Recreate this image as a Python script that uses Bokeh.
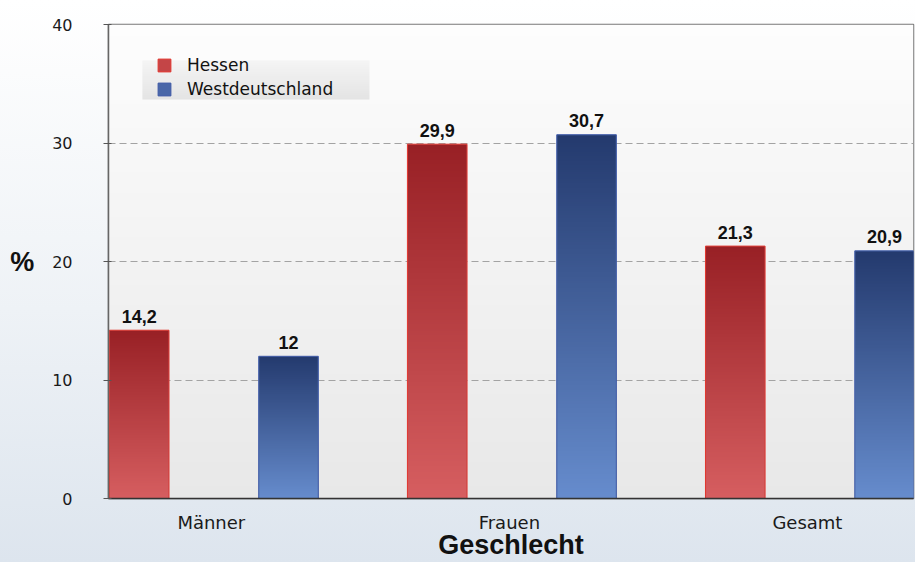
import numpy as np
from bokeh.plotting import figure
from bokeh.models import ColumnDataSource, FixedTicker, Legend, LegendItem, Range1d
from bokeh.transform import dodge
from bokeh.core.properties import value
from bokeh.embed import file_html
from bokeh.resources import INLINE

# ---------------- data ----------------
categories = ["Männer", "Frauen", "Gesamt"]
series_names = ["Hessen", "Westdeutschland"]
hessen = [14.2, 29.9, 21.3]
westdeutschland = [12.0, 30.7, 20.9]
y_ticks = [0, 10, 20, 30, 40]
y_label = "%"
x_label = "Geschlecht"


def fmt(v):
    return f"{v:g}".replace(".", ",")


# ---------------- layout / style constants ----------------
X_START, X_END = -0.345, 2.356
Y_START, Y_END = 0, 40
OFF_H, OFF_W = -0.242, 0.259
BAR_W = 0.2
INSET_X, INSET_Y = 0.002, 0.05

RED_TOP, RED_BOT = (152, 32, 37), (214, 94, 96)
BLUE_TOP, BLUE_BOT = (36, 58, 110), (102, 140, 205)


def grad_image(top, bottom, rows=160, cols=2):
    t = np.linspace(0.0, 1.0, rows)[:, None]
    img = np.empty((rows, cols), dtype=np.uint32)
    view = img.view(dtype=np.uint8).reshape((rows, cols, 4))
    for k in range(3):
        view[:, :, k] = np.round(bottom[k] + (top[k] - bottom[k]) * t).astype(np.uint8)
    view[:, :, 3] = 255
    return img


idx = list(range(len(categories)))
src = ColumnDataSource(dict(
    x=idx,
    hessen=hessen,
    west=westdeutschland,
    hessen_lbl=[fmt(v) for v in hessen],
    west_lbl=[fmt(v) for v in westdeutschland],
))

p = figure(
    width=915, height=562,
    x_range=Range1d(X_START, X_END), y_range=Range1d(Y_START, Y_END),
    output_backend="svg", toolbar_location=None,
    min_border_left=108, min_border_right=2, min_border_top=24, min_border_bottom=64,
)
p.border_fill_alpha = 0
p.styles = {"background": "linear-gradient(180deg, #ffffff 0%, #eef2f6 55%, #dde5ee 100%)"}
p.background_fill_color = "#f2f2f2"
p.outline_line_color = "#777777"
p.outline_line_width = 1.5

# frame background gradient
p.image_rgba(image=[grad_image((253, 253, 253), (232, 232, 232))],
             x=X_START, y=Y_START, dw=X_END - X_START, dh=Y_END - Y_START, level="image")

# legend background box
p.image_rgba(image=[grad_image((245, 245, 245), (228, 228, 228))],
             x=-0.2312, y=33.67, dw=0.7617, dh=3.29, level="image")

# bars
r_h = p.vbar(x=dodge("x", OFF_H, range=p.x_range), top="hessen", width=BAR_W, source=src,
             fill_color="#c44547", line_color="#e2362e", line_width=1)
r_w = p.vbar(x=dodge("x", OFF_W, range=p.x_range), top="west", width=BAR_W, source=src,
             fill_color="#4a67a8", line_color="#3d58a6", line_width=1)

# gradient fills inside the bars
for vals, off, top, bot in ((hessen, OFF_H, RED_TOP, RED_BOT),
                            (westdeutschland, OFF_W, BLUE_TOP, BLUE_BOT)):
    img = grad_image(top, bot)
    p.image_rgba(image=[img] * len(vals),
                 x=[i + off - BAR_W / 2 + INSET_X for i in idx],
                 y=[0] * len(vals),
                 dw=[BAR_W - 2 * INSET_X] * len(vals),
                 dh=[v - INSET_Y for v in vals])

# value labels
for col, off in (("hessen", OFF_H), ("west", OFF_W)):
    p.text(x=dodge("x", off, range=p.x_range), y=col, text=col + "_lbl", source=src,
           text_align="center", text_baseline="alphabetic", y_offset=-14,
           text_font=value("Liberation Sans"), text_font_style="bold",
           text_font_size="18px", text_color="#111111")

# axes
xa = p.xaxis[0]
xa.ticker = FixedTicker(ticks=idx)
xa.major_label_overrides = {i: c for i, c in enumerate(categories)}
xa.major_tick_line_color = None
xa.minor_tick_line_color = None
xa.major_tick_out = 0
xa.major_tick_in = 0
xa.axis_line_color = "#333333"
xa.axis_line_width = 1.5
xa.major_label_standoff = 13
xa.major_label_text_font = "DejaVu Sans"
xa.major_label_text_font_size = "18px"
xa.major_label_text_color = "#1a1a1a"
xa.axis_label = x_label
xa.axis_label_standoff = -6
xa.axis_label_text_font = "Liberation Sans"
xa.axis_label_text_font_style = "bold"
xa.axis_label_text_font_size = "27px"
xa.axis_label_text_color = "#111111"

ya = p.yaxis[0]
ya.ticker = FixedTicker(ticks=y_ticks)
ya.minor_tick_line_color = None
ya.major_tick_in = 3
ya.major_tick_out = 5
ya.major_tick_line_color = "#555555"
ya.axis_line_color = "#666666"
ya.axis_line_width = 1.5
ya.major_label_standoff = 31
ya.major_label_text_font = "DejaVu Sans"
ya.major_label_text_font_size = "16px"
ya.major_label_text_color = "#1a1a1a"
ya.axis_label = y_label
ya.axis_label_orientation = "horizontal"
ya.axis_label_standoff = 15
ya.axis_label_text_font = "Liberation Sans"
ya.axis_label_text_font_style = "bold"
ya.axis_label_text_font_size = "27px"
ya.axis_label_text_color = "#111111"

p.xgrid.grid_line_color = None
p.ygrid.grid_line_color = "#a3a3a3"
p.ygrid.grid_line_dash = "7 4"
p.ygrid.grid_line_width = 1

legend = Legend(
    items=[LegendItem(label=series_names[0], renderers=[r_h]),
           LegendItem(label=series_names[1], renderers=[r_w])],
    location=(48, 399), padding=0, spacing=4, margin=0,
    label_height=20, glyph_height=16, glyph_width=16, label_standoff=15,
    background_fill_alpha=0, border_line_alpha=0,
    label_text_font="DejaVu Sans", label_text_font_size="17px", label_text_color="#111111",
)
p.add_layout(legend)

open("out.html", "w").write(file_html(p, INLINE))
